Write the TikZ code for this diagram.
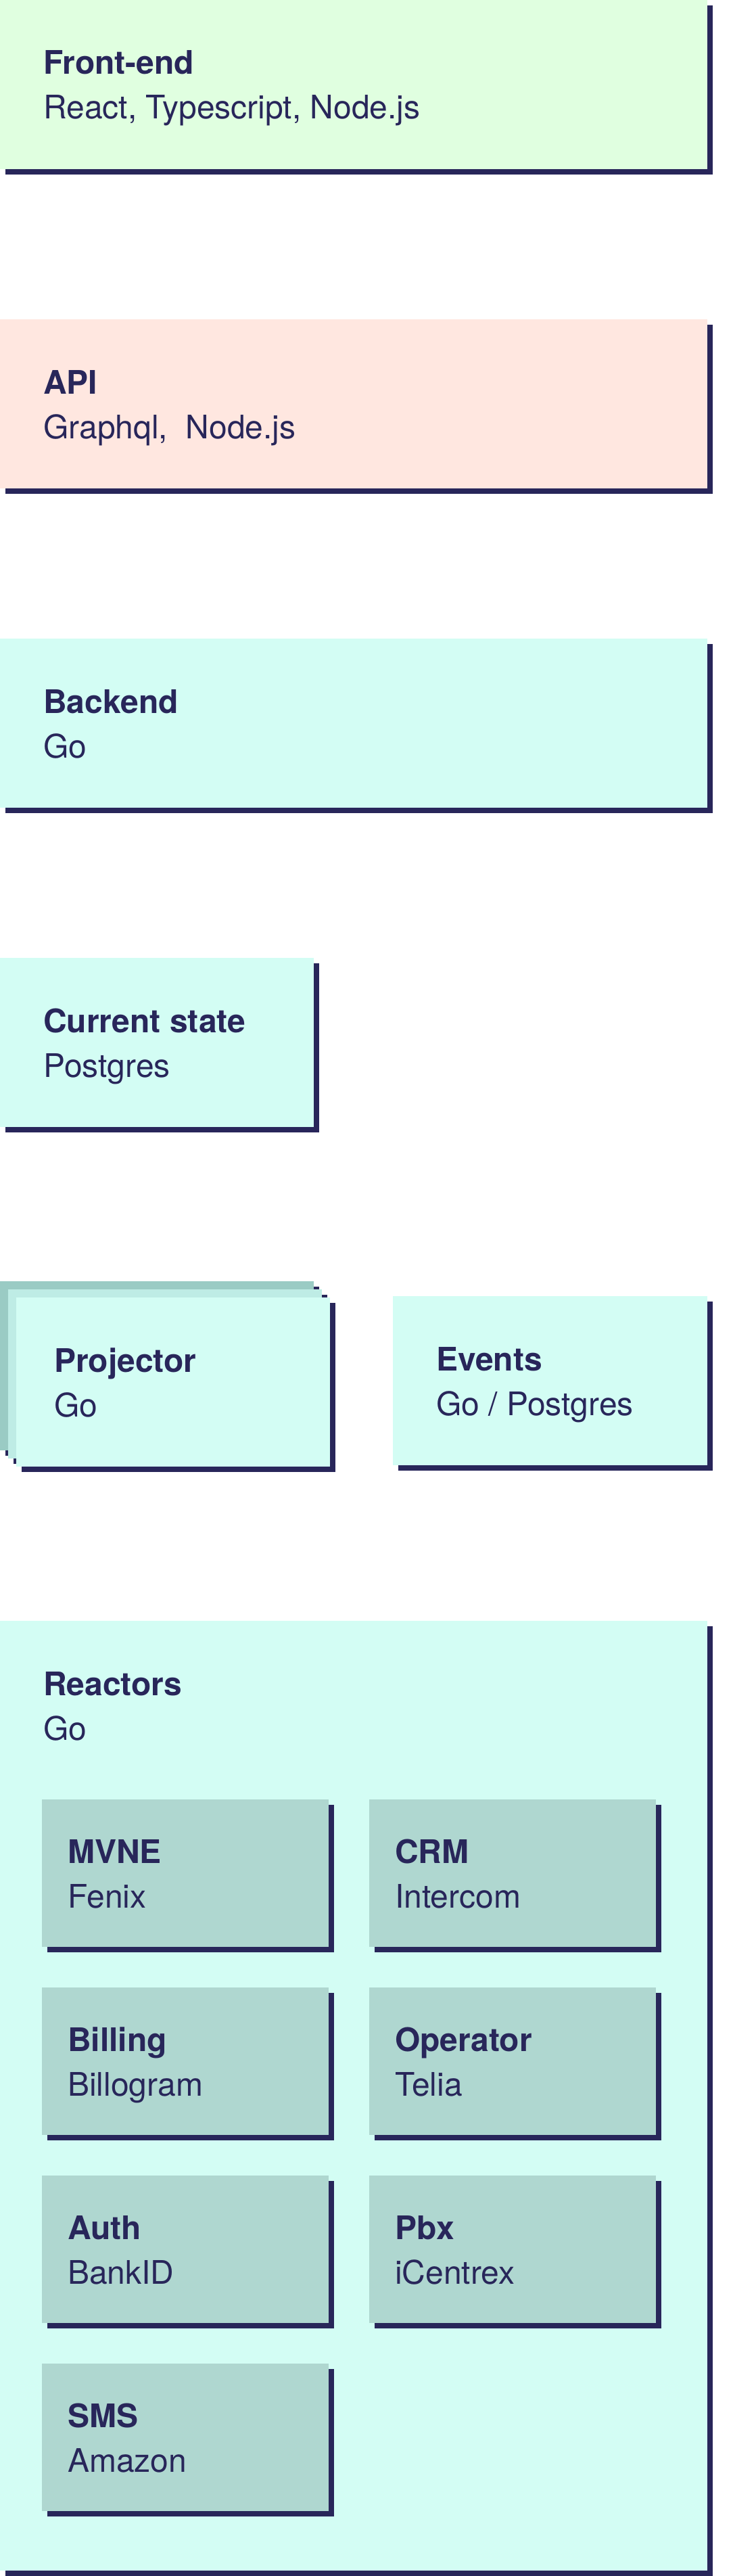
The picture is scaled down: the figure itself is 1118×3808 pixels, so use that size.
\documentclass[tikz,border=0pt]{standalone}
\usepackage{fontspec}
\setmainfont{TeX Gyre Heros}
\usepackage{tikz}
\usetikzlibrary{shadows}

\definecolor{navy}{HTML}{28265A}
\definecolor{frontgreen}{HTML}{E0FFE0}
\definecolor{apirose}{HTML}{FFE7E0}
\definecolor{mint}{HTML}{D3FDF4}
\definecolor{sage}{HTML}{AFD7D0}
\definecolor{projback}{HTML}{9ACBC4}
\definecolor{projmid}{HTML}{BEECE5}

\begin{document}
\begin{tikzpicture}[x=1pt, y=-1pt,
	box/.style={anchor=north west, inner sep=0pt, fill=mint, minimum width=1046pt, minimum height=250pt,
		drop shadow={shadow xshift=8pt, shadow yshift=-8pt, fill=navy, opacity=1}},
	halfbox/.style={box, minimum width=464pt},
	reactor/.style={box, fill=sage, minimum width=424pt, minimum height=218pt},
	title/.style={anchor=base west, inner sep=0pt, text=navy, font=\fontsize{48}{58}\selectfont\bfseries},
	tech/.style={anchor=base west, inner sep=0pt, text=navy, font=\fontsize{48}{58}\selectfont}]

	\useasboundingbox [fill=white] (0, 0) rectangle (1118, 3808);

	\node [box, fill=frontgreen] (fe) at (0, 0) {};
	\node [title] (fet) at ([shift={(64,110)}]fe.north west) {Front-end};
	\node [tech] (fes) at ([shift={(64,176)}]fe.north west) {React, Typescript, Node.js};

	\node [box, fill=apirose] (api) at (0, 472) {};
	\node [title] (apit) at ([shift={(64,110)}]api.north west) {API};
	\node [tech] (apis) at ([shift={(64,176)}]api.north west) {Graphql,\ \ Node.js};

	\node [box] (be) at (0, 944) {};
	\node [title] (bet) at ([shift={(64,110)}]be.north west) {Backend};
	\node [tech] (bes) at ([shift={(64,176)}]be.north west) {Go};

	\node [halfbox] (cs) at (0, 1416) {};
	\node [title] (cst) at ([shift={(64,110)}]cs.north west) {Current state};
	\node [tech] (css) at ([shift={(64,176)}]cs.north west) {Postgres};

	% projector, stacked copies
	\node [halfbox, fill=projback] (pr1) at (0, 1894) {};
	\node [halfbox, fill=projmid] (pr2) at (12, 1906) {};
	\node [halfbox] (pr) at (24, 1918) {};
	\node [title] (prt) at ([shift={(56,110)}]pr.north west) {Projector};
	\node [tech] (prs) at ([shift={(56,176)}]pr.north west) {Go};

	\node [halfbox, minimum width=465pt] (ev) at (581, 1916) {};
	\node [title] (evt) at ([shift={(64,110)}]ev.north west) {Events};
	\node [tech] (evs) at ([shift={(64,176)}]ev.north west) {Go / Postgres};

	\node [box, minimum height=1404pt] (re) at (0, 2396) {};
	\node [title] (ret) at ([shift={(64,110)}]re.north west) {Reactors};
	\node [tech] (res) at ([shift={(64,176)}]re.north west) {Go};

	\foreach \name/\x/\y/\what/\who in {mvne/62/2660/MVNE/Fenix, crm/546/2660/CRM/Intercom,
		bill/62/2938/Billing/Billogram, oper/546/2938/Operator/Telia,
		auth/62/3216/Auth/BankID, pbx/546/3216/Pbx/iCentrex,
		sms/62/3494/SMS/Amazon} {
		\node [reactor] (\name) at (\x, \y) {};
		\node [title] (\name t) at ([shift={(38,94)}]\name.north west) {\what};
		\node [tech] (\name s) at ([shift={(38,160)}]\name.north west) {\who};
	}

\end{tikzpicture}
\end{document}
